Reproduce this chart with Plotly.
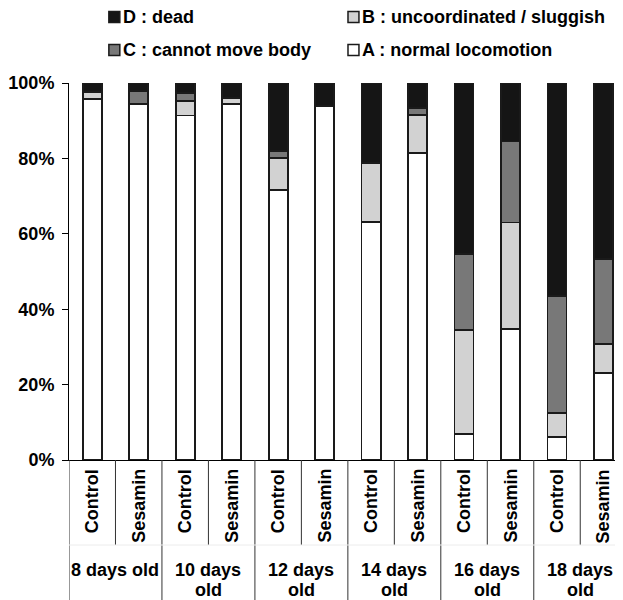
import plotly.graph_objects as go

ages = ["8 days old", "10 days<br>old", "12 days<br>old", "14 days<br>old", "16 days<br>old", "18 days<br>old"]
treatments = ["Control", "Sesamin"]
y_ticks = [0, 20, 40, 60, 80, 100]
y_tick_labels = ["0%", "20%", "40%", "60%", "80%", "100%"]

# percentages per bar (Control, Sesamin for each age)
A_normal = [95.8, 94.4, 91.4, 94.4, 71.6, 93.8, 63.2, 81.4, 6.9, 34.7, 6.0, 23.0]
B_sluggish = [1.8, 0.0, 3.9, 1.6, 8.6, 0.0, 15.5, 10.2, 27.5, 28.3, 6.5, 7.7]
C_cannot = [0.0, 3.4, 2.0, 0.0, 1.8, 0.0, 0.0, 1.8, 20.2, 21.5, 30.9, 22.7]
D_dead = [2.4, 2.2, 2.7, 4.0, 18.0, 6.2, 21.3, 6.6, 45.4, 15.5, 56.6, 46.6]

series = [
    ("A : normal locomotion", A_normal, "#ffffff"),
    ("B : uncoordinated / sluggish", B_sluggish, "#d2d2d2"),
    ("C : cannot move body", C_cannot, "#787878"),
    ("D : dead", D_dead, "#151515"),
]
legend_layout = [("D : dead", 0, 0), ("B : uncoordinated / sluggish", 1, 0),
                 ("C : cannot move body", 0, 1), ("A : normal locomotion", 1, 1)]

FONT = "Liberation Sans, Arial, Helvetica, sans-serif"
FS = 18
OFF = 8  # page body margin
W, H = 615, 592
ML, MR, MT, MB = 59, 0, 75, 140
PW, PH = W - ML - MR, H - MT - MB

n = len(A_normal)
xs = list(range(n))

fig = go.Figure()
for name, vals, col in series:
    fig.add_trace(go.Bar(
        x=xs, y=vals, name=name, width=0.41,
        marker=dict(color=col, line=dict(color="#1a1a1a", width=1.8)),
        showlegend=False,
    ))

def vy(py):
    """viewport pixel y -> paper y"""
    return (H - MB - (py - OFF)) / PH

def vx(px):
    """viewport pixel x -> paper x"""
    return (px - OFF - ML) / PW

shapes = []
annotations = []
y_bottom = vy(600)
y_mid = vy(545)
line_style = dict(color="#333", width=1)
shapes.append(dict(type="line", xref="x", yref="paper", x0=-0.5, x1=-0.5, y0=0, y1=y_bottom, line=line_style))
for g in range(len(ages)):
    xm = 2 * g + 0.5
    shapes.append(dict(type="line", xref="x", yref="paper", x0=xm, x1=xm, y0=0, y1=y_mid, line=line_style))
    xe = 2 * g + 1.5
    shapes.append(dict(type="line", xref="x", yref="paper", x0=xe, x1=xe, y0=0, y1=y_bottom, line=line_style))
shapes.append(dict(type="line", xref="paper", yref="paper", x0=0, x1=1, y0=y_mid, y1=y_mid,
                   line=dict(color="#ececec", width=1)))

bold = dict(family=FONT, size=FS, color="black", weight="bold")
for i in xs:
    annotations.append(dict(x=i, y=vy(467), xref="x", yref="paper",
                            text=treatments[i % 2], textangle=-90, showarrow=False,
                            xanchor="center", yanchor="top", font=bold))
line_centers = [569.5, 590]
for g, lab in enumerate(ages):
    for k, part in enumerate(lab.split("<br>")):
        annotations.append(dict(x=2 * g + 0.5, y=vy(line_centers[k]), xref="x", yref="paper",
                                text=part, showarrow=False, xanchor="center", yanchor="middle",
                                font=bold))

# custom legend
col_x = [107, 347]
row_y = [17, 50]
colors = {name: col for name, _, col in series}
for name, c, r in legend_layout:
    x0 = col_x[c]
    yc = row_y[r]
    shapes.append(dict(type="rect", xref="paper", yref="paper",
                       x0=vx(x0), x1=vx(x0 + 11),
                       y0=vy(yc + 5.5), y1=vy(yc - 5.5),
                       fillcolor=colors[name], line=dict(color="#1a1a1a", width=1.5)))
    annotations.append(dict(x=vx(x0 + 12.5), y=vy(yc), xref="paper", yref="paper",
                            text=name, showarrow=False, xanchor="left", yanchor="middle",
                            font=bold))

fig.update_layout(
    width=W, height=H,
    margin=dict(l=ML, r=MR, t=MT, b=MB, pad=0),
    barmode="stack", barnorm="percent",
    plot_bgcolor="white", paper_bgcolor="white",
    shapes=shapes, annotations=annotations,
    showlegend=False,
    xaxis=dict(range=[-0.5, 11.42], showticklabels=False, ticks="", showgrid=False,
               zeroline=False, showline=True, linecolor="black", linewidth=1),
    yaxis=dict(range=[0, 100], tickmode="array", tickvals=y_ticks, ticktext=y_tick_labels,
               ticks="outside", ticklen=6, tickcolor="black", tickwidth=1,
               showgrid=False, zeroline=False, showline=True, linecolor="black", linewidth=1,
               ticklabelstandoff=4, tickfont=bold),
)

fig.write_html("out.html")
